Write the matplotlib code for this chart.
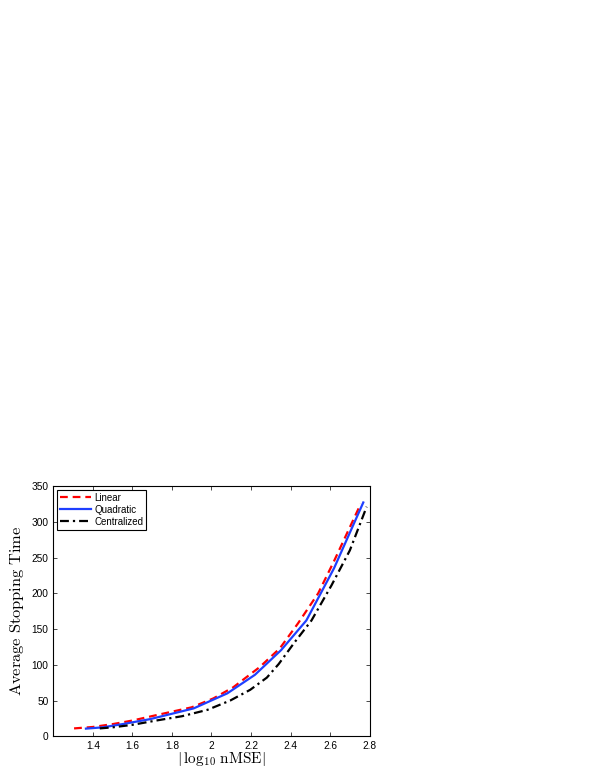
import matplotlib
matplotlib.use("Agg")
import matplotlib.pyplot as plt

plt.rcParams["font.family"] = ["Liberation Sans", "DejaVu Sans"]
plt.rcParams["mathtext.fontset"] = "cm"

# values
lin_x = [1.305, 1.40, 1.50, 1.60, 1.72, 1.90, 2.01, 2.11, 2.245, 2.346, 2.438, 2.54, 2.62, 2.755]
lin_y = [11, 13, 17, 22, 29.5, 40.5, 53, 68.5, 97, 123, 158, 200, 245, 325]

quad_x = [1.365, 1.45, 1.55, 1.69, 1.91, 2.08, 2.22, 2.354, 2.48, 2.62, 2.768]
quad_y = [10.7, 12.5, 17, 24, 39, 60, 86, 121, 162, 235, 327]

cen_x = [1.435, 1.50, 1.60, 1.72, 1.85, 1.98, 2.095, 2.196, 2.28, 2.34, 2.422, 2.506, 2.607, 2.70, 2.785]
cen_y = [11, 12.5, 16, 22, 28, 37, 50, 65, 82, 101, 132, 162, 211, 260, 321]

xticks = [1.4, 1.6, 1.8, 2.0, 2.2, 2.4, 2.6, 2.8]
xticklabels = ["1.4", "1.6", "1.8", "2", "2.2", "2.4", "2.6", "2.8"]
yticks = [0, 50, 100, 150, 200, 250, 300, 350]

fig = plt.figure(figsize=(5.95, 7.7), dpi=100)
ax = fig.add_axes([0.0896, 0.0438, 0.5316, 0.325])

ax.plot(lin_x, lin_y, color="red", linestyle=(0, (3.5, 2.2)), linewidth=1.6, label="Linear")
ax.plot(quad_x, quad_y, color="#1f3fff", linestyle="-", linewidth=1.6, label="Quadratic")
ax.plot(cen_x, cen_y, color="black", linestyle=(0, (4, 1.8, 1, 1.8)), linewidth=1.6, label="Centralized")

ax.set_xlim(1.2, 2.8)
ax.set_ylim(0, 350)
ax.set_xticks(xticks)
ax.set_xticklabels(xticklabels)
ax.set_yticks(yticks)
ax.tick_params(direction="in", top=True, right=True, labelsize=7.3, length=3, width=0.5, pad=3.5)
for s in ax.spines.values():
    s.set_linewidth(0.8)

ax.set_xlabel(r"$|\,\log_{10}\,\mathrm{nMSE}|$", fontsize=11)
ax.xaxis.set_label_coords(0.53, -0.056)
ax.xaxis.label.set_va("top")
ax.set_ylabel(r"$\mathrm{Average\ Stopping\ Time}$", fontsize=11.8, labelpad=4)

leg = ax.legend(loc="upper left", fontsize=7, fancybox=False, edgecolor="black",
                framealpha=1, borderpad=0.3, labelspacing=0.2, handlelength=3.2,
                handletextpad=0.3, borderaxespad=0.4)
leg.get_frame().set_linewidth(0.8)

fig.savefig("out.png", dpi=100)
